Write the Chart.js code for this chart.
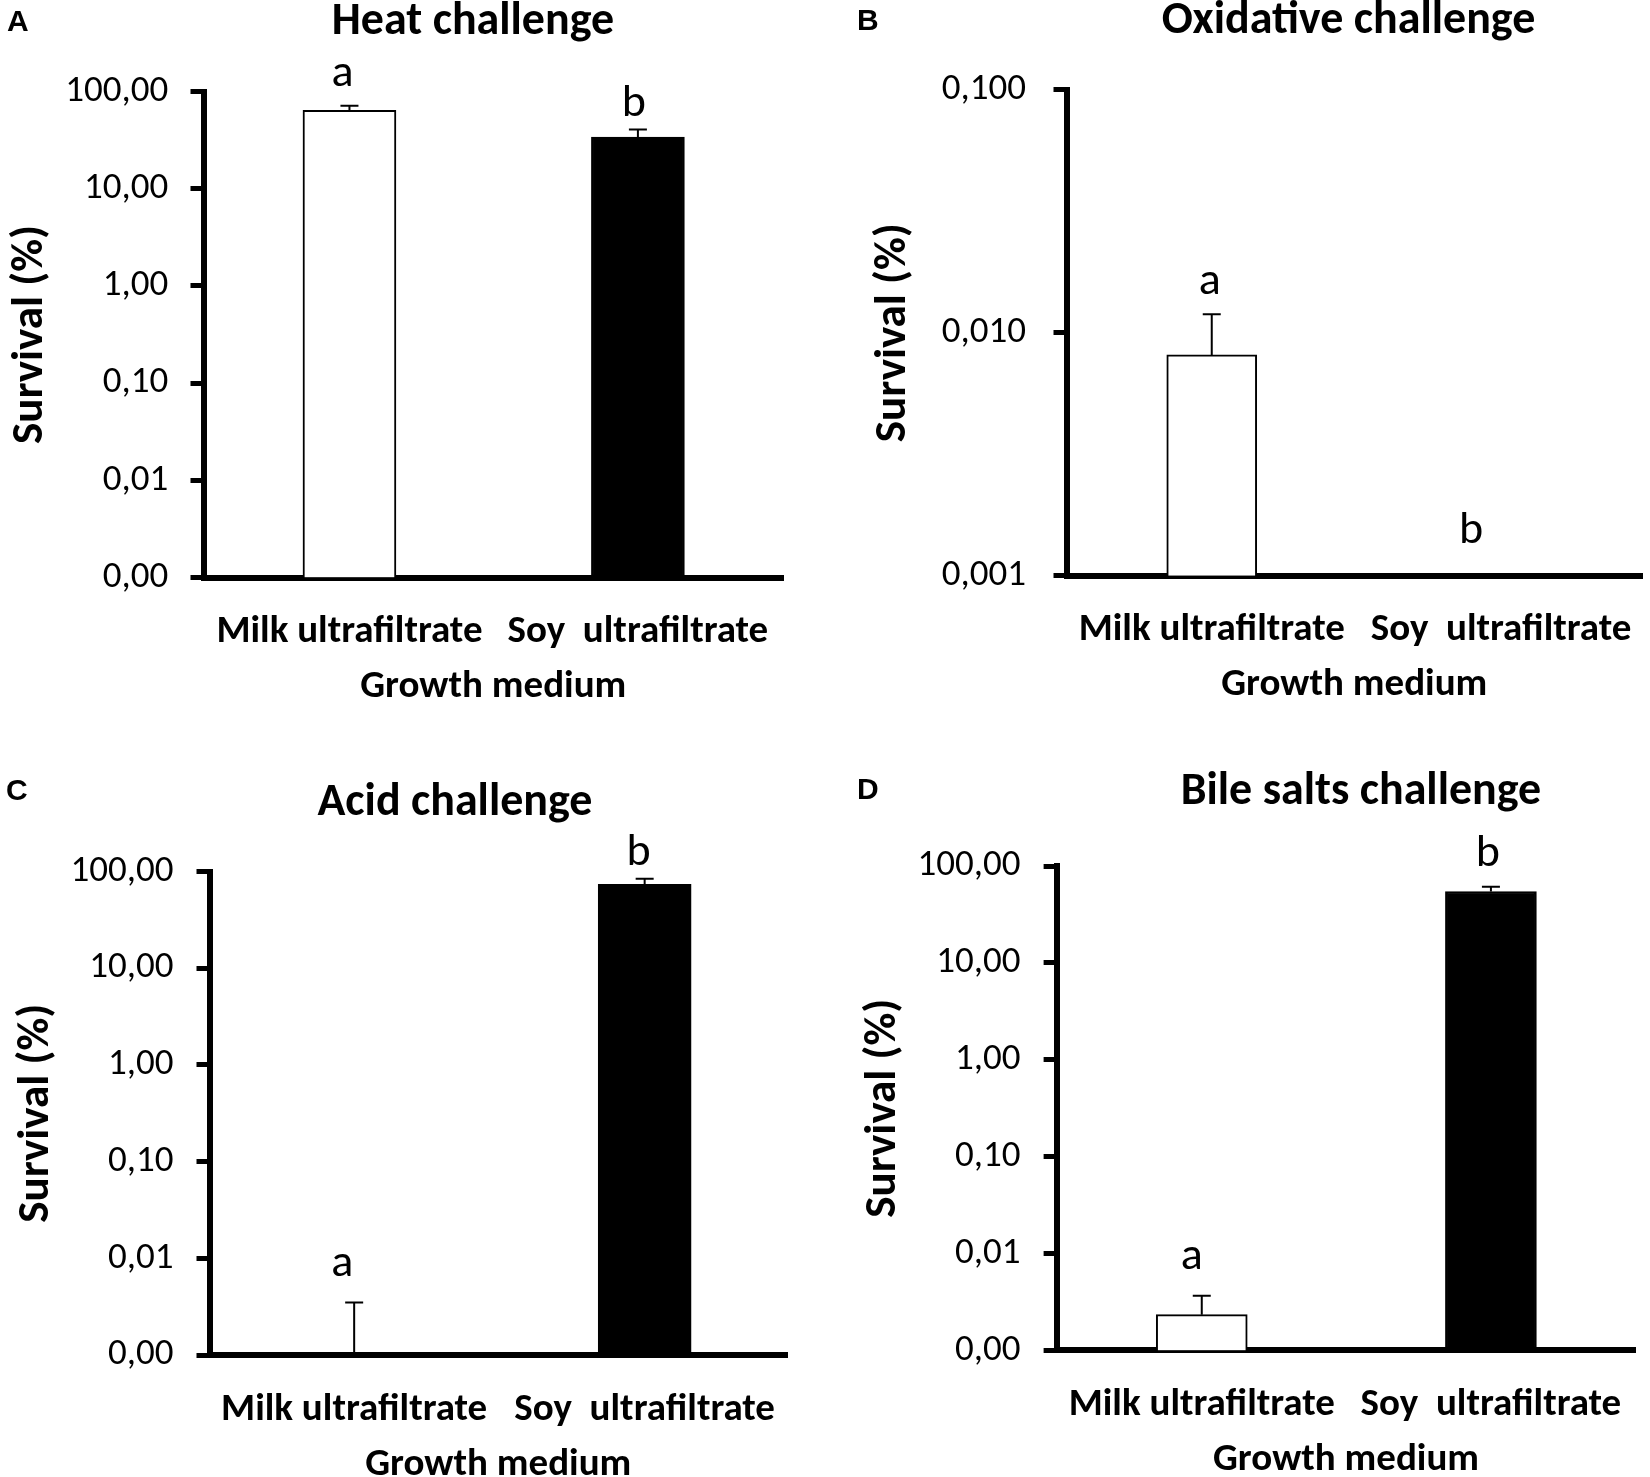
<!DOCTYPE html>
<html><head><meta charset="utf-8">
<script src="https://cdn.jsdelivr.net/npm/chart.js@4.4.1/dist/chart.umd.min.js"></script>
<style>
html,body{margin:0;padding:0;background:#fff;overflow:hidden;width:1650px;height:1477px;}
canvas{position:absolute;}
</style></head><body>
<canvas id="cA"></canvas><canvas id="cB"></canvas><canvas id="cC"></canvas><canvas id="cD"></canvas>
<script>
// ---- data ----
const categories = ['Milk ultrafiltrate', 'Soy  ultrafiltrate'];
const heatSurvival = [64, 34];
const heatError = [7.3, 6.6];
const heatLetters = ['a', 'b'];
const oxidativeSurvival = [0.0081, 0];
const oxidativeError = [0.0038, 0];
const oxidativeLetters = ['a', 'b'];
const acidSurvival = [0, 73.6];
const acidError = [0.0035, 10.3];
const acidLetters = ['a', 'b'];
const bileSurvival = [0.00234, 54.6];
const bileError = [0.00133, 6.4];
const bileLetters = ['a', 'b'];
const percentTicks = [0.001, 0.01, 0.1, 1, 10, 100];
const oxidativeTicks = [0.001, 0.01, 0.1];
const barFills = ['#ffffff', '#000000'];

const FAMILY = 'Carlito, Calibri, Lato, sans-serif';

const errorBarPlugin = {
  id: 'errorBars',
  afterDatasetsDraw(chart, args, o) {
    const {ctx} = chart; const x = chart.scales.x, y = chart.scales.y;
    const raw = chart.data.datasets[0].data;
    ctx.save(); ctx.strokeStyle = '#000'; ctx.lineWidth = 2;
    raw.forEach((pt, i) => {
      const e = o.errors[i]; if (!e) return;
      const px = x.getPixelForValue(pt.x);
      const y0 = y.getPixelForValue(Math.max(pt.y, y.min));
      const y1 = y.getPixelForValue(pt.y + e);
      ctx.beginPath(); ctx.moveTo(px, y0); ctx.lineTo(px, y1);
      ctx.moveTo(px - 9, y1); ctx.lineTo(px + 9, y1); ctx.stroke();
    });
    ctx.restore();
  }
};

const textPlugin = {
  id: 'panelText',
  afterDraw(chart, args, o) {
    const {ctx} = chart; const x = chart.scales.x, y = chart.scales.y;
    ctx.save(); ctx.fillStyle = '#000'; ctx.textBaseline = 'alphabetic';
    ctx.font = 'bold 46px ' + FAMILY; ctx.textAlign = 'center';
    ctx.fillText(o.title, o.titlePos[0] - o.ox, o.titlePos[1] - o.oy);
    ctx.font = 'bold 30px "Liberation Sans", Arial, sans-serif'; ctx.textAlign = 'left';
    ctx.fillText(o.letter, o.letterPos[0] - o.ox, o.letterPos[1] - o.oy);
    ctx.font = '46px ' + FAMILY; ctx.textAlign = 'center';
    chart.data.datasets[0].data.forEach((pt, i) => {
      const topV = Math.max(pt.y + (o.errors[i] || 0), y.min);
      ctx.fillText(o.sig[i], x.getPixelForValue(pt.x) + o.sigDx[i], y.getPixelForValue(topV) - o.sigGap[i]);
    });
    ctx.restore();
  }
};

const panels = [
  {id:'cA', title:'Heat challenge', letter:'A', values:heatSurvival, errors:heatError, sig:heatLetters,
   tickVals:percentTicks, dec:2, min:0.001, max:100, area:{l:203.5, r:783, t:91.5, b:577.5}, top:0, tickPad:22.3,
   xMin:-0.506, xMax:1.503, bar:93, titlePos:[473, 33.5], letterPos:[7, 30.5], sigDx:[-7, -4], sigGap:[20, 13.5]},
  {id:'cB', title:'Oxidative challenge', letter:'B', values:oxidativeSurvival, errors:oxidativeError, sig:oxidativeLetters,
   tickVals:oxidativeTicks, dec:3, min:0.001, max:0.1, area:{l:1066.5, r:1642, t:89.6, b:575.7}, top:0, tickPad:27.5,
   xMin:-0.502, xMax:1.487, bar:90, titlePos:[1348.5, 33], letterPos:[857, 30], sigDx:[-2, -30], sigGap:[20, 33]},
  {id:'cC', title:'Acid challenge', letter:'C', values:acidSurvival, errors:acidError, sig:acidLetters,
   tickVals:percentTicks, dec:2, min:0.001, max:100, area:{l:209.5, r:787, t:871.5, b:1355}, top:738, tickPad:23,
   xMin:-0.498, xMax:1.49, bar:93, titlePos:[455, 815], letterPos:[6, 800], sigDx:[-12, -6], sigGap:[26, 14]},
  {id:'cD', title:'Bile salts challenge', letter:'D', values:bileSurvival, errors:bileError, sig:bileLetters,
   tickVals:percentTicks, dec:2, min:0.001, max:100, area:{l:1056.6, r:1635.5, t:866, b:1350.4}, top:738, tickPad:23,
   xMin:-0.502, xMax:1.50, bar:91, titlePos:[1361, 804], letterPos:[857, 799], sigDx:[-10, -3], sigGap:[27, 21]}
];

panels.forEach(p => {
  const A = p.area;
  const cl = Math.floor(A.l - 214);
  const ct = p.top;
  const cw = Math.ceil(A.r - cl + 6);
  const ch = Math.ceil(A.b - ct + 140);
  const yW = A.l - cl;
  const xH = 133.4;
  const padTop = A.t - ct;
  const padBottom = ch - (A.b - ct) - xH;
  const padRight = cw - (A.r - cl);
  const cv = document.getElementById(p.id);
  cv.width = cw; cv.height = ch;
  cv.style.left = cl + 'px'; cv.style.top = ct + 'px';
  cv.style.width = cw + 'px'; cv.style.height = ch + 'px';
  new Chart(cv, {
    type: 'bar',
    data: { datasets: [{
      data: p.values.map((v, i) => ({x: i, y: v})),
      backgroundColor: barFills, borderColor: '#000', borderWidth: 2, barThickness: p.bar
    }]},
    options: {
      responsive: false, animation: false, devicePixelRatio: 1,
      layout: {padding: {left: 0, top: padTop, right: padRight, bottom: padBottom}},
      plugins: {
        legend: {display: false}, tooltip: {enabled: false}, title: {display: false},
        errorBars: {errors: p.errors},
        panelText: {title: p.title, letter: p.letter, titlePos: p.titlePos, letterPos: p.letterPos,
                    ox: cl, oy: ct, sig: p.sig, sigDx: p.sigDx, sigGap: p.sigGap, errors: p.errors}
      },
      scales: {
        x: {
          type: 'linear', min: p.xMin, max: p.xMax, offset: false, z: 1,
          afterBuildTicks: s => { s.ticks = categories.map((c, i) => ({value: i})); },
          afterFit: s => { s.height = xH; },
          grid: {display: false, drawTicks: false, tickLength: 0},
          border: {display: true, color: '#000', width: 6},
          ticks: {callback: v => categories[Math.round(v)], color: '#000', autoSkip: false, maxRotation: 0,
                  font: {family: FAMILY, size: 39, weight: 'bold', lineHeight: 110 / 39}, padding: 0},
          title: {display: true, text: 'Growth medium', color: '#000', padding: {top: 0, bottom: 0},
                  font: {family: FAMILY, size: 39, weight: 'bold', lineHeight: 1.2}}
        },
        y: {
          type: 'logarithmic', min: p.min, max: p.max, z: 1,
          afterBuildTicks: s => { s.ticks = p.tickVals.map(v => ({value: v})); },
          afterFit: s => { s.width = yW; },
          grid: {display: true, drawOnChartArea: false, drawTicks: true, tickLength: 13, lineWidth: 5, color: '#000'},
          border: {display: true, color: '#000', width: 6},
          ticks: {callback: v => Number(v).toFixed(p.dec).replace('.', ','), color: '#000', autoSkip: false,
                  font: {family: FAMILY, size: 37, weight: 'normal'}, padding: p.tickPad},
          title: {display: true, text: 'Survival (%)', color: '#000', padding: {top: yW - 200, bottom: 0},
                  font: {family: FAMILY, size: 45, weight: 'bold', lineHeight: 1.2}}
        }
      }
    },
    plugins: [errorBarPlugin, textPlugin]
  });
});
</script>
</body></html>
